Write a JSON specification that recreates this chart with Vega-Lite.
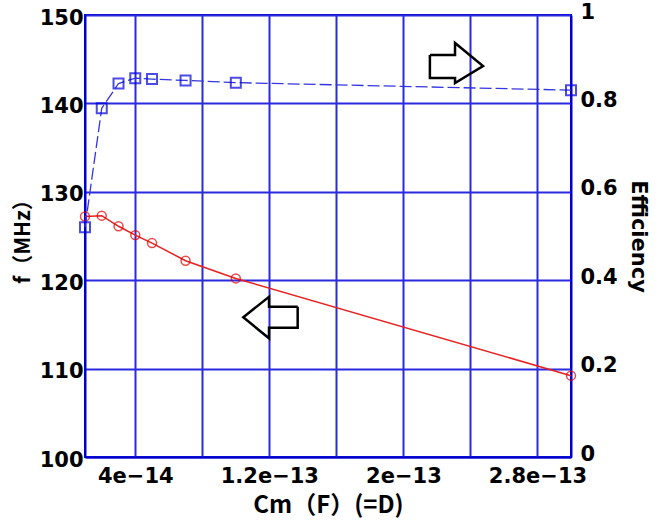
{
  "$schema": "https://vega.github.io/schema/vega-lite/v6.json",
  "width": 486,
  "height": 442,
  "autosize": "none",
  "padding": {"left": 85, "top": 15, "right": 97, "bottom": 67},
  "background": "white",
  "config": {
    "view": {"stroke": "#0000cc", "strokeWidth": 2},
    "axis": {
      "labelFont": "DejaVu Sans",
      "labelFontWeight": "bold",
      "labelFontSize": 21,
      "labelColor": "black",
      "titleColor": "black",
      "ticks": false,
      "domainColor": "#0000cc",
      "domainWidth": 2,
      "gridColor": "#2a2ae0",
      "gridWidth": 2,
      "gridOpacity": 1
    }
  },
  "datasets": {
    "main": [
      {"cm": 1e-14, "f": 127.2, "eff": 0.52},
      {"cm": 2e-14, "f": 127.3, "eff": 0.789},
      {"cm": 3e-14, "f": 126.1, "eff": 0.845},
      {"cm": 4e-14, "f": 125.1, "eff": 0.857},
      {"cm": 5e-14, "f": 124.2, "eff": 0.855},
      {"cm": 7e-14, "f": 122.2, "eff": 0.852},
      {"cm": 1e-13, "f": 120.2, "eff": 0.847},
      {"cm": 3e-13, "f": 109.2, "eff": 0.83}
    ],
    "leftArrow": [
      {"i": 0, "cm": 1.369e-13, "f": 117.0},
      {"i": 1, "cm": 1.198e-13, "f": 117.0},
      {"i": 2, "cm": 1.198e-13, "f": 118.13},
      {"i": 3, "cm": 1.0445e-13, "f": 115.8},
      {"i": 4, "cm": 1.198e-13, "f": 113.43},
      {"i": 5, "cm": 1.198e-13, "f": 114.63},
      {"i": 6, "cm": 1.369e-13, "f": 114.63},
      {"i": 7, "cm": 1.369e-13, "f": 117.0}
    ],
    "rightArrow": [
      {"i": 0, "cm": 2.158e-13, "eff": 0.9095},
      {"i": 1, "cm": 2.308e-13, "eff": 0.9095},
      {"i": 2, "cm": 2.308e-13, "eff": 0.9367},
      {"i": 3, "cm": 2.475e-13, "eff": 0.8846},
      {"i": 4, "cm": 2.308e-13, "eff": 0.8462},
      {"i": 5, "cm": 2.308e-13, "eff": 0.8575},
      {"i": 6, "cm": 2.158e-13, "eff": 0.8575},
      {"i": 7, "cm": 2.158e-13, "eff": 0.9095}
    ]
  },
  "layer": [
    {
      "data": {"name": "main"},
      "layer": [
        {
          "mark": {"type": "line", "color": "#e82020", "strokeWidth": 1.5},
          "encoding": {}
        },
        {
          "mark": {"type": "point", "shape": "circle", "color": "#e00000", "filled": false, "size": 80, "strokeWidth": 1.5},
          "encoding": {}
        },
        {
          "data": {"name": "leftArrow"},
          "mark": {"type": "line", "color": "black", "strokeWidth": 2.5, "strokeJoin": "miter"},
          "encoding": {"order": {"field": "i", "type": "quantitative"}}
        }
      ],
      "encoding": {
        "x": {
          "field": "cm", "type": "quantitative",
          "scale": {"domain": [1e-14, 3e-13], "nice": false, "zero": false},
          "axis": {
            "values": [4e-14, 8e-14, 1.2e-13, 1.6e-13, 2e-13, 2.4e-13, 2.8e-13],
            "labelExpr": "abs((datum.value/8e-14) % 1 - 0.5) < 0.01 ? replace(format(datum.value,'~e'),'-','−') : ''",
            "labelPadding": 8,
            "labelFlush": false,
            "title": "Cm（F）(=D)",
            "titleFont": "Noto Sans CJK JP",
            "titleFontWeight": "bold",
            "titleFontSize": 24,
            "titlePadding": 7
          }
        },
        "y": {
          "field": "f", "type": "quantitative",
          "scale": {"domain": [100, 150], "nice": false, "zero": false},
          "axis": {
            "values": [100, 110, 120, 130, 140, 150],
            "labelPadding": 2,
            "labelOffset": 3,
            "title": "f（MHz）",
            "titleFont": "Noto Sans CJK JP",
            "titleFontWeight": "bold",
            "titleFontSize": 21,
            "titlePadding": 6
          }
        }
      }
    },
    {
      "data": {"name": "main"},
      "layer": [
        {
          "mark": {"type": "line", "color": "#3535dd", "strokeWidth": 1.3, "strokeDash": [12, 4]},
          "encoding": {}
        },
        {
          "mark": {"type": "point", "shape": "square", "color": "#0000dd", "filled": false, "size": 100, "strokeWidth": 2},
          "encoding": {}
        },
        {
          "data": {"name": "rightArrow"},
          "mark": {"type": "line", "color": "black", "strokeWidth": 2.5, "strokeJoin": "miter"},
          "encoding": {"order": {"field": "i", "type": "quantitative"}}
        }
      ],
      "encoding": {
        "x": {"field": "cm", "type": "quantitative", "scale": {"domain": [1e-14, 3e-13], "nice": false, "zero": false}},
        "y": {
          "field": "eff", "type": "quantitative",
          "scale": {"domain": [0, 1], "nice": false},
          "axis": {
            "orient": "right",
            "values": [0, 0.2, 0.4, 0.6, 0.8, 1],
            "format": "~g",
            "grid": false,
            "labelPadding": 9,
            "labelOffset": -3,
            "title": "Efficiency",
            "titleFont": "DejaVu Sans",
            "titleFontWeight": "bold",
            "titleFontSize": 21,
            "titlePadding": 10
          }
        }
      }
    }
  ],
  "resolve": {"scale": {"y": "independent"}}
}
